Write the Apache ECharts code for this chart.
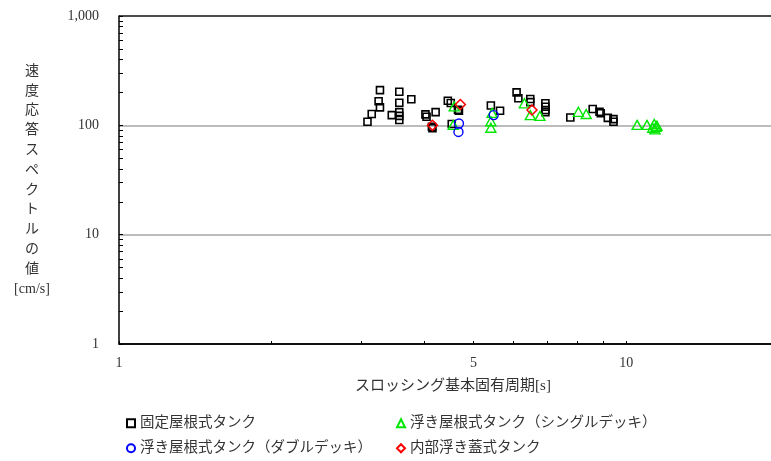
<!DOCTYPE html>
<html>
<head>
<meta charset="utf-8">
<style>
  html, body { margin: 0; padding: 0; background: #fff; }
  #chart { width: 771px; height: 461px; }
</style>
<script src="https://cdn.jsdelivr.net/npm/echarts@6/dist/echarts.min.js"></script>
</head>
<body>
<div id="chart"></div>
<script>
// Series names (legend order)
const seriesNames = [
  '固定屋根式タンク',
  '浮き屋根式タンク（シングルデッキ）',
  '浮き屋根式タンク（ダブルデッキ）',
  '内部浮き蓋式タンク'
];

// [sloshing period (s), velocity response (cm/s)]
const fixedRoof = [
  [3.09, 108], [3.15, 127], [3.27, 210], [3.25, 166], [3.27, 146], [3.45, 124],
  [3.57, 203], [3.57, 161], [3.57, 132], [3.57, 122], [3.57, 112], [3.77, 173],
  [4.02, 126], [4.04, 120], [4.21, 132], [4.14, 97], [4.15, 94], [4.45, 168],
  [4.51, 160], [4.66, 139], [4.68, 136], [4.53, 103], [5.41, 152], [5.64, 136],
  [6.08, 200], [6.13, 177], [6.47, 174], [6.47, 163], [6.93, 159], [6.93, 148],
  [6.93, 138], [6.93, 132], [7.76, 118], [8.59, 141], [8.86, 133], [8.91, 129],
  [9.20, 117], [9.44, 114], [9.44, 108]
];
const singleDeck = [
  [4.58, 149], [4.56, 101], [5.44, 130], [5.41, 109], [5.41, 95], [6.30, 159],
  [6.47, 124], [6.76, 122], [8.05, 133], [8.34, 127], [10.51, 101], [10.99, 101],
  [11.36, 103], [11.45, 97], [11.40, 92], [11.28, 95], [11.50, 99]
];
const doubleDeck = [
  [4.68, 104], [4.67, 87], [5.48, 124]
];
const internalFloat = [
  [4.15, 100], [4.71, 155], [6.52, 138]
];

// Axis ranges, tick labels and minor tick positions
const xMin = 1, xMax = 19.3;
const yMin = 1, yMax = 1000;
const xTickLabels = [1, 5, 10];
const xTickValues = [1, 2, 3, 4, 5, 6, 7, 8, 9, 10];
const yTickLabels = [1, 10, 100, 1000];
const yTickValues = [
  1, 2, 3, 4, 5, 6, 7, 8, 9,
  10, 20, 30, 40, 50, 60, 70, 80, 90,
  100, 200, 300, 400, 500, 600, 700, 800, 900, 1000
];

const FONT = '"Liberation Serif", "Noto Sans CJK JP", serif';
const TEXT = '#333';

const chart = echarts.init(document.getElementById('chart'), null, { renderer: 'canvas' });

function hollow(color, width) {
  return { color: 'rgba(0,0,0,0)', borderColor: color, borderWidth: width, opacity: 1 };
}

// one legend block per entry: two columns, two rows
const legendSlots = [
  { name: seriesNames[0], left: 126, top: 416 },
  { name: seriesNames[1], left: 396, top: 416 },
  { name: seriesNames[2], left: 126, top: 441 },
  { name: seriesNames[3], left: 396, top: 441 }
];

const option = {
  backgroundColor: '#fff',
  animation: false,
  grid: { left: 119, top: 16, right: 0, height: 328, containLabel: false },
  legend: legendSlots.map(s => ({
    orient: 'horizontal', left: s.left, top: s.top,
    itemWidth: 8, itemHeight: 8, padding: 0,
    data: [s.name],
    textStyle: { fontSize: 14.5, color: TEXT, fontFamily: FONT }
  })),
  xAxis: [
    {
      type: 'log', logBase: 10, min: xMin, max: xMax, position: 'bottom',
      axisLine: { show: true, lineStyle: { color: '#000', width: 1.5 } },
      axisTick: { show: false },
      axisLabel: { show: false },
      splitLine: { show: false }
    },
    {
      // log10 space overlay carrying the ticks and labels
      type: 'value', min: Math.log10(xMin), max: Math.log10(xMax), position: 'bottom',
      axisLine: { show: false },
      axisTick: {
        show: true, inside: true, length: 3,
        customValues: xTickValues.map(Math.log10),
        lineStyle: { color: '#000', width: 1 }
      },
      axisLabel: {
        show: true, margin: 12,
        customValues: xTickLabels.map(Math.log10),
        formatter: v => String(Math.round(Math.pow(10, v))),
        fontSize: 14, color: TEXT, fontFamily: FONT
      },
      splitLine: { show: false }
    }
  ],
  yAxis: [
    {
      type: 'log', logBase: 10, min: yMin, max: yMax, position: 'left',
      axisLine: { show: true, lineStyle: { color: '#000', width: 1.5 } },
      axisTick: { show: false },
      axisLabel: { show: false },
      splitLine: {
        show: true,
        lineStyle: { color: ['#000', '#a6a6a6', '#a6a6a6', '#111'], width: 1.5 }
      },
      name: '速\n度\n応\n答\nス\nペ\nク\nト\nル\nの\n値\n[cm/s]',
      nameLocation: 'middle', nameRotate: 0, nameGap: 87,
      nameTextStyle: {
        fontSize: 14, color: TEXT, fontFamily: FONT,
        lineHeight: 19.8, align: 'center', verticalAlign: 'middle'
      }
    },
    {
      type: 'value', min: Math.log10(yMin), max: Math.log10(yMax), position: 'left',
      axisLine: { show: false },
      axisTick: {
        show: true, inside: true, length: 4,
        customValues: yTickValues.map(Math.log10),
        lineStyle: { color: '#000', width: 1 }
      },
      axisLabel: {
        show: true, margin: 20,
        customValues: yTickLabels.map(Math.log10),
        formatter: v => Math.round(Math.pow(10, v)).toLocaleString('en-US'),
        fontSize: 14, color: TEXT, fontFamily: FONT
      },
      splitLine: { show: false }
    }
  ],
  series: [
    {
      name: seriesNames[0], type: 'scatter', xAxisIndex: 0, yAxisIndex: 0,
      symbol: 'rect', symbolSize: 7, data: fixedRoof,
      itemStyle: hollow('#000', 1.6), z: 2
    },
    {
      name: seriesNames[1], type: 'scatter', xAxisIndex: 0, yAxisIndex: 0,
      symbol: 'triangle', symbolSize: [10, 9], data: singleDeck,
      itemStyle: hollow('#00e600', 1.4), z: 3
    },
    {
      name: seriesNames[2], type: 'scatter', xAxisIndex: 0, yAxisIndex: 0,
      symbol: 'circle', symbolSize: 9, data: doubleDeck,
      itemStyle: hollow('#0000ff', 1.4), z: 4
    },
    {
      name: seriesNames[3], type: 'scatter', xAxisIndex: 0, yAxisIndex: 0,
      symbol: 'diamond', symbolSize: 10, data: internalFloat,
      itemStyle: hollow('#ff0000', 1.5), z: 5
    }
  ],
  // x-axis title, centred under the plotted period range
  title: {
    text: 'スロッシング基本固有周期[s]',
    left: 448, top: 374, textAlign: 'center',
    textStyle: { fontSize: 15, fontWeight: 'normal', color: TEXT, fontFamily: FONT }
  }
};

chart.setOption(option);
</script>
</body>
</html>
